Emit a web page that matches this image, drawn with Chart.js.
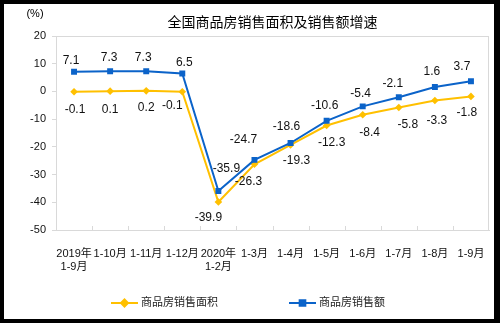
<!DOCTYPE html>
<html>
<head>
<meta charset="utf-8">
<script src="https://cdn.jsdelivr.net/npm/chart.js@4/dist/chart.umd.min.js"></script>
<style>
  html, body { margin: 0; padding: 0; background: #000; }
  #wrap { position: absolute; left: 4px; top: 4px; width: 490px; height: 315px; background: #fff; }
  #growth { display: block; }
</style>
</head>
<body>
<div id="wrap"><canvas id="growth" width="490" height="315"></canvas></div>
<script>
const categories = [["2019年", "1-9月"], "1-10月", "1-11月", "1-12月", ["2020年", "1-2月"],
  "1-3月", "1-4月", "1-5月", "1-6月", "1-7月", "1-8月", "1-9月"];
const areaGrowth = [-0.1, 0.1, 0.2, -0.1, -39.9, -26.3, -19.3, -12.3, -8.4, -5.8, -3.3, -1.8];
const salesGrowth = [7.1, 7.3, 7.3, 6.5, -35.9, -24.7, -18.6, -10.6, -5.4, -2.1, 1.6, 3.7];
const seriesNames = ["商品房销售面积", "商品房销售额"];
const chartTitle = "全国商品房销售面积及销售额增速";
const unitLabel = "(%)";

const BLUE = "#0b63c9";
const YELLOW = "#ffc000";
const FONT = "'Liberation Sans', Arial, 'Noto Sans CJK SC', sans-serif";

// label nudges [dx, dy] around each point
const salesNudge = [[-3,-11],[-1,-14],[-3,-14],[2,-11],[8,-22],[-11,-20],[-4,-16],[-2,-15],[-2,-13],[-6,-14],[-3,-15],[-9,-14]];
const areaNudge = [[1,18],[0,19],[0,17],[-10,14],[-10,16],[-6,17],[6,16],[5,17],[7,18],[9,17],[2,20],[-4,16]];

const decorations = {
  id: 'decorations',
  beforeDatasetsDraw(chart) {
    const { ctx, chartArea: a } = chart;
    ctx.save();
    // plot frame
    ctx.strokeStyle = "#d9d9d9";
    ctx.lineWidth = 1;
    ctx.strokeRect(a.left + 0.5, a.top + 0.5, a.right - a.left - 1, a.bottom - a.top);
    // small category ticks pointing up from the x axis
    const step = (a.right - a.left) / categories.length;
    ctx.beginPath();
    for (let i = 1; i < categories.length; i++) {
      const x = Math.round(a.left + step * i) + 0.5;
      ctx.moveTo(x, a.bottom);
      ctx.lineTo(x, a.bottom - 4);
    }
    ctx.stroke();
    ctx.restore();
  },
  afterDatasetsDraw(chart) {
    const { ctx, chartArea: a } = chart;
    ctx.save();
    ctx.fillStyle = "#111";
    ctx.font = "12px " + FONT;
    ctx.textAlign = "center";
    ctx.textBaseline = "middle";
    const nudges = [salesNudge, areaNudge];
    chart.data.datasets.forEach((ds, di) => {
      const meta = chart.getDatasetMeta(di);
      meta.data.forEach((pt, i) => {
        const n = nudges[di][i];
        ctx.fillText(ds.data[i].toFixed(1), pt.x + n[0], pt.y + n[1]);
      });
    });

    // title and unit
    ctx.fillStyle = "#000";
    ctx.font = "14px " + FONT;
    ctx.fillText(chartTitle, (a.left + a.right) / 2, 19);
    ctx.font = "11px " + FONT;
    ctx.fillText(unitLabel, 31, 10);

    // legend
    const items = [
      { x: 107, color: YELLOW, style: 'rectRot', name: seriesNames[0] },
      { x: 285, color: BLUE, style: 'rect', name: seriesNames[1] }
    ];
    const ly = 299;
    items.forEach(it => {
      ctx.strokeStyle = it.color;
      ctx.lineWidth = 2;
      ctx.beginPath();
      ctx.moveTo(it.x, ly);
      ctx.lineTo(it.x + 27, ly);
      ctx.stroke();
      Chart.helpers.drawPoint(ctx, { pointStyle: it.style, radius: it.style === 'rect' ? 4 : 3.5, borderWidth: 1 }, it.x + 13.5, ly);
      ctx.fillStyle = it.color;
      ctx.fill();
      ctx.fillStyle = "#222";
      ctx.textAlign = "left";
      ctx.font = "11px " + FONT;
      ctx.fillText(it.name, it.x + 30, ly);
    });
    ctx.restore();
  }
};

new Chart(document.getElementById('growth'), {
  type: 'line',
  data: {
    labels: categories,
    datasets: [{
      label: seriesNames[1],
      data: salesGrowth,
      borderColor: BLUE,
      backgroundColor: BLUE,
      borderWidth: 2,
      pointStyle: 'rect',
      pointRadius: 4.2,
      pointBorderWidth: 0,
      tension: 0
    }, {
      label: seriesNames[0],
      data: areaGrowth,
      borderColor: YELLOW,
      backgroundColor: YELLOW,
      borderWidth: 2,
      pointStyle: 'rectRot',
      pointRadius: 3.8,
      pointBorderWidth: 0,
      tension: 0
    }]
  },
  options: {
    responsive: false,
    animation: false,
    layout: { padding: { top: 32, right: 5, left: 0, bottom: 0 } },
    plugins: { legend: { display: false }, tooltip: { enabled: false }, title: { display: false } },
    scales: {
      x: {
        offset: true,
        grid: { display: false, offset: true },
        border: { display: true, color: "#d9d9d9" },
        ticks: { color: "#111", font: { size: 11, family: FONT }, padding: 9, maxRotation: 0, autoSkip: false },
        afterFit(s) { s.height = 89; }
      },
      y: {
        min: -50,
        max: 20,
        grid: { drawOnChartArea: false, drawTicks: true, tickLength: 4, color: "#d9d9d9" },
        border: { display: true, color: "#d9d9d9" },
        ticks: { stepSize: 10, color: "#111", font: { size: 11, family: FONT }, padding: 6 },
        afterFit(s) { s.width = 52; }
      }
    }
  },
  plugins: [decorations]
});
</script>
</body>
</html>
